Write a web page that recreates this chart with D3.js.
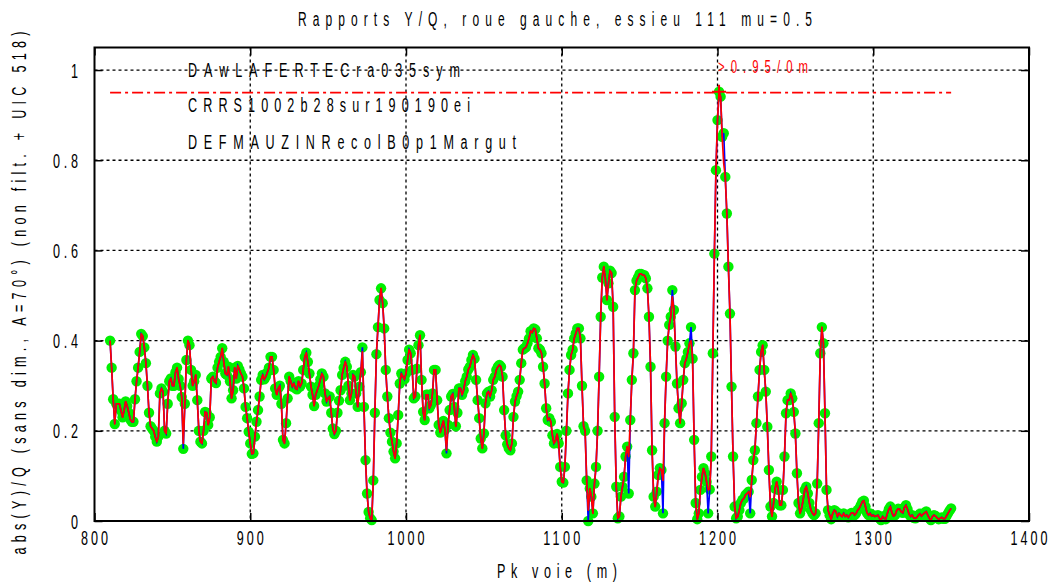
<!DOCTYPE html>
<html>
<head>
<meta charset="utf-8">
<script src="https://cdn.jsdelivr.net/npm/d3@7"></script>
<style>
  body { margin: 0; background: #fff; }
  svg { display: block; }
</style>
</head>
<body>
<div id="root"></div>
<script>
// Rapports Y/Q, one value per metre of Pk voie
const ratio810 = [
  0.40, 0.34, 0.27, 0.215, 0.26, 0.26, 0.26, 0.245, 0.23, 0.245,
  0.265, 0.255, 0.24, 0.225, 0.22, 0.22, 0.27, 0.31, 0.34, 0.375,
  0.415, 0.41, 0.385, 0.35, 0.30, 0.24, 0.21, 0.205, 0.20, 0.187,
  0.176, 0.187, 0.283, 0.294, 0.287, 0.20, 0.194, 0.26, 0.31, 0.316,
  0.30, 0.30, 0.33, 0.34, 0.315, 0.30, 0.275, 0.172, 0.26, 0.357,
  0.40, 0.39, 0.335, 0.30, 0.31, 0.324, 0.268, 0.20, 0.176, 0.172,
  0.20, 0.242, 0.24, 0.213, 0.23, 0.316, 0.32, 0.31, 0.306, 0.34,
  0.353, 0.364, 0.383, 0.353, 0.327, 0.324, 0.342, 0.31, 0.272, 0.29,
  0.34, 0.316, 0.344, 0.336, 0.327, 0.32, 0.294, 0.253, 0.228, 0.198
];
const ratio900 = [
  0.172, 0.149, 0.15, 0.187, 0.22, 0.246, 0.276, 0.313, 0.324, 0.314,
  0.32, 0.33, 0.34, 0.364, 0.364, 0.335, 0.294, 0.28, 0.294, 0.30,
  0.26, 0.18, 0.172, 0.217, 0.272, 0.32, 0.31, 0.298, 0.305, 0.294,
  0.292, 0.31, 0.298, 0.305, 0.335, 0.364, 0.373, 0.353, 0.327, 0.298,
  0.28, 0.255, 0.28, 0.29, 0.30, 0.314, 0.327, 0.32, 0.283, 0.265,
  0.272, 0.276, 0.24, 0.205, 0.193, 0.20, 0.24, 0.267, 0.29, 0.324,
  0.34, 0.353, 0.342, 0.30, 0.268, 0.283, 0.324, 0.32, 0.283, 0.253,
  0.298, 0.33, 0.375, 0.253, 0.135, 0.061, 0.02, 0.006, 0.002, 0.09,
  0.24, 0.37, 0.43, 0.49, 0.516, 0.483, 0.427, 0.335, 0.276, 0.228,
  0.196, 0.176, 0.154, 0.139, 0.172, 0.235, 0.305, 0.327, 0.32, 0.314
];
const ratio1000 = [
  0.327, 0.357, 0.38, 0.372, 0.335, 0.272, 0.276, 0.338, 0.39, 0.412,
  0.313, 0.242, 0.224, 0.28, 0.28, 0.25, 0.257, 0.283, 0.335, 0.335,
  0.268, 0.213, 0.196, 0.21, 0.222, 0.202, 0.157, 0.213, 0.246, 0.276,
  0.282, 0.253, 0.21, 0.24, 0.294, 0.294, 0.28, 0.29, 0.31, 0.32,
  0.336, 0.342, 0.357, 0.368, 0.36, 0.313, 0.268, 0.228, 0.183, 0.161,
  0.194, 0.261, 0.283, 0.287, 0.276, 0.29, 0.313, 0.32, 0.335, 0.342,
  0.346, 0.342, 0.32, 0.246, 0.19, 0.17, 0.161, 0.157, 0.172, 0.231,
  0.265, 0.277, 0.287, 0.313, 0.35, 0.38, 0.383, 0.385, 0.394, 0.405,
  0.421, 0.418, 0.427, 0.425, 0.405, 0.383, 0.38, 0.372, 0.342, 0.305,
  0.25, 0.224, 0.228, 0.22, 0.19, 0.172, 0.178, 0.193, 0.172, 0.12
];
const ratio1100 = [
  0.087, 0.085, 0.12, 0.2, 0.283, 0.335, 0.368, 0.38, 0.405, 0.416,
  0.427, 0.427, 0.405, 0.30, 0.21, 0.20, 0.09, 0.024, 0.072, 0.054,
  0.017, 0.083, 0.12, 0.2, 0.32, 0.453, 0.54, 0.564, 0.538, 0.49,
  0.527, 0.555, 0.55, 0.475, 0.231, 0.076, 0.006, 0.01, 0.054, 0.076,
  0.098, 0.143, 0.165, 0.143, 0.224, 0.313, 0.372, 0.512, 0.533, 0.54,
  0.548, 0.548, 0.545, 0.545, 0.538, 0.516, 0.453, 0.342, 0.157, 0.054,
  0.032, 0.065, 0.102, 0.117, 0.113, 0.09, 0.217, 0.32, 0.40, 0.435,
  0.453, 0.497, 0.468, 0.387, 0.305, 0.25, 0.217, 0.261, 0.313, 0.35,
  0.36, 0.375, 0.394, 0.40, 0.36, 0.18, 0.04, 0.004, 0.017, 0.069,
  0.098, 0.117, 0.106, 0.087, 0.069, 0.07, 0.143, 0.372, 0.593, 0.778
];
const ratio1200 = [
  0.889, 0.952, 0.941, 0.852, 0.793, 0.763, 0.682, 0.564, 0.46, 0.298,
  0.143, 0.032, 0.006, 0.01, 0.024, 0.04, 0.047, 0.05, 0.058, 0.061,
  0.065, 0.054, 0.091, 0.135, 0.157, 0.217, 0.276, 0.335, 0.375, 0.39,
  0.335, 0.287, 0.209, 0.113, 0.032, 0.01, 0.04, 0.072, 0.087, 0.069,
  0.035, 0.035, 0.069, 0.143, 0.239, 0.268, 0.268, 0.283, 0.272, 0.242,
  0.194, 0.106, 0.04, 0.017, 0.028, 0.047, 0.069, 0.076, 0.061, 0.04,
  0.024, 0.017, 0.013, 0.017, 0.083, 0.217, 0.372, 0.43, 0.394, 0.239,
  0.069, 0.024, 0.013, 0.004, 0.017, 0.024, 0.021, 0.01, 0.017, 0.013,
  0.01, 0.017, 0.01, 0.013, 0.008, 0.013, 0.018, 0.018, 0.013, 0.017,
  0.024, 0.028, 0.035, 0.043, 0.045, 0.032, 0.018, 0.013, 0.017, 0.011
];
const ratio1300 = [
  0.013, 0.01, 0.011, 0.013, 0.006, 0.002, 0.01, 0.006, 0.004, 0.016,
  0.026, 0.032, 0.018, 0.011, 0.013, 0.023, 0.027, 0.026, 0.02, 0.018,
  0.03, 0.035, 0.026, 0.015, 0.01, 0.013, 0.007, 0.006, 0.008, 0.013,
  0.016, 0.011, 0.015, 0.018, 0.021, 0.013, 0.006, 0.002, 0.01, 0.013,
  0.011, 0.007, 0.004, 0.006, 0.008, 0.005, 0.005, 0.011, 0.017, 0.023, 0.028
];
const segmentStarts = [810, 900, 1000, 1100, 1200, 1300];
const segmentValues = [ratio810, ratio900, ratio1000, ratio1100, ratio1200, ratio1300];

// raw (unfiltered) samples where the blue curve leaves the red one: [pk, value]
const rawSpikes = [
  [857, 0.16], [972, 0.385], [1026, 0.15], [1117, 0.0], [1143, 0.061],
  [1165, 0.017], [1171, 0.512], [1183, 0.43], [1194, 0.017], [1204, 0.86], [1221, 0.017]
];

const limitValue = 0.95;
const limitRange = [810, 1350];
const maxPoint = [1201, 0.952];

const xTicks = [800, 900, 1000, 1100, 1200, 1300, 1400];
const yTicks = [0, 0.2, 0.4, 0.6, 0.8, 1];
const yTickLabels = ["0", "0.2", "0.4", "0.6", "0.8", "1"];
const legendNames = ["DAwLAFERTECra035sym", "CRRS1002b28sur190190ei", "DEFMAUZINRecolB0p1Margut"];

const W = 1051, H = 582;
const mLeft = 94.5, mRight = 1029, mTop = 47.5, mBottom = 521;
const font = "'Liberation Sans', Arial, sans-serif";

const svg = d3.select("#root").append("svg").attr("width", W).attr("height", H);

const x = d3.scaleLinear().domain([800, 1400]).range([mLeft, mRight]);
const y = d3.scaleLinear().domain([0, 1.05]).range([mBottom, mTop]);

// narrow, widely spaced text like the reference
function spaced(g, txt, px, py, width, opt = {}) {
  const sx = opt.sx || 0.6;
  const t = g.append("text")
    .attr("transform", `translate(${px},${py})` + (opt.rotate ? ` rotate(${opt.rotate})` : "") + ` scale(${sx},1)`)
    .attr("text-anchor", opt.anchor || "start")
    .attr("font-family", font)
    .attr("font-size", opt.size || 21)
    .attr("fill", opt.fill || "#000")
    .text(txt);
  if (txt.length > 1) t.attr("textLength", width / sx).attr("lengthAdjust", "spacing");
  return t;
}

// data points
const filtered = [];
segmentStarts.forEach((s, k) => {
  segmentValues[k].forEach((v, i) => filtered.push({ pk: s + i, v: v }));
});
const spikeMap = new Map(rawSpikes);
const raw = filtered.map(d => ({ pk: d.pk, v: spikeMap.has(d.pk) ? spikeMap.get(d.pk) : d.v }));

// grid
const grid = svg.append("g").attr("stroke", "#000").attr("stroke-width", 1.3).attr("stroke-dasharray", "3,3");
grid.selectAll("line.v").data(xTicks.slice(1, -1)).enter().append("line")
  .attr("x1", d => x(d)).attr("x2", d => x(d)).attr("y1", mTop).attr("y2", mBottom);
grid.selectAll("line.h").data(yTicks.slice(1)).enter().append("line")
  .attr("x1", mLeft).attr("x2", mRight).attr("y1", d => y(d)).attr("y2", d => y(d));

// axes with inward ticks on all four sides
const tick = 8;
function axisStyle(g) {
  g.select(".domain").remove();
  g.selectAll(".tick line").attr("stroke", "#000").attr("stroke-width", 1.5);
  g.selectAll(".tick text").remove();
}
svg.append("g").attr("transform", `translate(0,${mBottom})`).call(d3.axisBottom(x).tickValues(xTicks).tickSize(-tick)).call(axisStyle);
svg.append("g").attr("transform", `translate(0,${mTop})`).call(d3.axisTop(x).tickValues(xTicks).tickSize(-tick)).call(axisStyle);
svg.append("g").attr("transform", `translate(${mLeft},0)`).call(d3.axisLeft(y).tickValues(yTicks).tickSize(-tick)).call(axisStyle);
svg.append("g").attr("transform", `translate(${mRight},0)`).call(d3.axisRight(y).tickValues(yTicks).tickSize(-tick)).call(axisStyle);

// tick labels
const labels = svg.append("g");
xTicks.forEach(t => {
  const s = String(t);
  spaced(labels, s, x(t), 545, s.length * 10.3 - 4, { anchor: "middle" });
});
yTicks.forEach((t, i) => {
  const s = yTickLabels[i];
  spaced(labels, s, 78, y(t) + 7.5, s.length * 9.5 - 3.5, { anchor: "end" });
});

// titles
spaced(svg, "Rapports Y/Q, roue gauche, essieu 111 mu=0.5", 555, 26, 514, { anchor: "middle", size: 20 });
spaced(svg, "Pk voie (m)", 557, 578, 120, { anchor: "middle" });
spaced(svg, "abs(Y)/Q (sans dim., A=70\u00b0) (non filt. + UIC 518)", 25.5, 293, 523, { anchor: "middle", rotate: -90 });

// limit line
svg.append("line")
  .attr("x1", x(limitRange[0])).attr("x2", x(limitRange[1]))
  .attr("y1", y(limitValue)).attr("y2", y(limitValue))
  .attr("stroke", "#ff0000").attr("stroke-width", 1.6).attr("stroke-dasharray", "11,4,3,4");

// series
const plot = svg.append("g");
plot.selectAll("circle").data(raw).enter().append("circle")
  .attr("cx", d => x(d.pk)).attr("cy", d => y(d.v)).attr("r", 5.2).attr("fill", "#00f000");

const line = d3.line().x(d => x(d.pk)).y(d => y(d.v));
plot.append("path").datum(raw).attr("d", line)
  .attr("fill", "none").attr("stroke", "#0000ff").attr("stroke-width", 1.7);
plot.append("path").datum(filtered).attr("d", line)
  .attr("fill", "none").attr("stroke", "#ff0000").attr("stroke-width", 1.7).attr("stroke-linejoin", "round");

// maximum marker and annotation
plot.append("path")
  .attr("transform", `translate(${x(maxPoint[0])},${y(maxPoint[1])})`)
  .attr("d", "M-7,0H7M0,-7V7").attr("stroke", "#ff0000").attr("stroke-width", 2);
spaced(svg, ">0.95/0m", 718, 73, 90, { fill: "#ff0000", size: 19 });

// legend entries
legendNames.forEach((n, i) => {
  spaced(svg, n, 188, [77, 112, 149][i], [272, 282, 328][i]);
});

// frame
svg.append("rect").attr("x", mLeft).attr("y", mTop).attr("width", mRight - mLeft).attr("height", mBottom - mTop)
  .attr("fill", "none").attr("stroke", "#000").attr("stroke-width", 2);
</script>
</body>
</html>
